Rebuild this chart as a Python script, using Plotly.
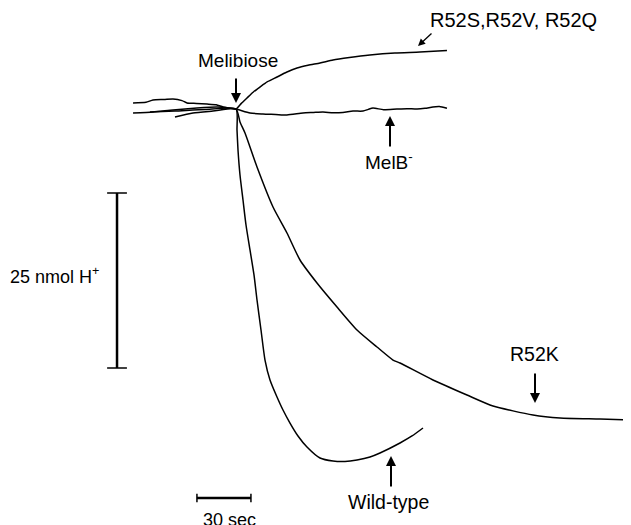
import plotly.graph_objects as go

# ---------------- data (time in s, signal in nmol H+, relative to melibiose addition) -------------
r52s_t = [-57.2, -50.0, -46.1, -40.0, -35.0, -30.0, -27.2, -22.0, -16.1, -11.0, -7.2, -3.0, 0.0,
          3.0, 6.1, 9.5, 13.3, 17.5, 22.8, 28.0, 33.9, 40.0, 46.7, 53.9, 63.0, 74.4, 88.3, 102.2, 117.2]
r52s_s = [0.86, 0.95, 1.29, 1.35, 1.43, 1.2, 0.86, 0.8, 0.71, 0.6, 0.29, 0.1, 0.0,
          0.8, 1.57, 2.4, 3.14, 3.9, 4.57, 5.25, 5.86, 6.25, 6.57, 7.0, 7.35, 7.71, 8.0, 8.14, 8.36]

melb_t = [-57.2, -46.1, -35.0, -21.7, -10.6, -4.0, 0.0, 7.8, 15.0, 22.0, 28.3, 37.2, 43.0, 48.3,
          54.0, 59.4, 65.0, 70.6, 73.5, 76.1, 82.0, 89.4, 95.0, 100.6, 105.0, 109.4, 113.0, 117.2]
melb_s = [-0.57, -0.43, -0.14, 0.14, 0.29, 0.15, 0.0, -0.57, -0.71, -0.78, -0.86, -0.57, -0.5, -0.43,
          -0.55, -0.5, -0.3, -0.29, -0.05, 0.14, -0.1, 0.0, 0.05, 0.0, 0.1, 0.29, 0.35, 0.1]

r52k_t = [-47.8, -33.9, -17.2, 0.0, 2.22, 5.0, 11.67, 20.56, 28.33, 35.56, 45.0, 56.11, 67.22, 78.33,
          87.22, 91.11, 109.44, 128.33, 142.78, 165.0, 180.0, 202.22, 219.44]
r52k_s = [-0.43, -0.29, -0.07, 0.0, -1.86, -3.43, -8.29, -14.0, -17.71, -21.57, -24.86, -28.29, -31.57,
          -34.0, -35.86, -36.29, -38.71, -40.86, -42.43, -43.71, -44.14, -44.29, -44.43]

wt_t = [-33.9, -23.9, -12.8, 0.0, 0.56, 1.11, 2.22, 3.89, 5.56, 7.78, 10.0, 11.67, 13.89, 16.11, 18.89,
        22.78, 26.11, 30.0, 34.44, 39.44, 46.67, 53.89, 60.56, 67.22, 74.44, 80.0, 91.11, 97.78, 103.89]
wt_s = [-1.14, -0.57, -0.29, 0.0, -3.0, -5.86, -9.43, -13.0, -16.57, -20.14, -23.71, -27.29, -31.57,
        -35.86, -38.71, -41.14, -43.0, -44.86, -46.71, -48.29, -49.86, -50.29, -50.36, -50.14, -49.71,
        -49.14, -47.71, -46.71, -45.57]

bar_nmol = 25      # vertical scale bar
bar_sec = 30       # horizontal scale bar
bar_v_top = -12.0  # signal where vertical bar starts
bar_v_t = -66.1    # time position of vertical bar
bar_h_t0 = -21.7   # time where horizontal bar starts
bar_h_s = -55.57   # signal level of horizontal bar

# ---------------- figure ----------------
PAGE_W, PAGE_H = 631, 525
OFF = 8                      # page body margin of the html page
W, H = PAGE_W - OFF, PAGE_H - OFF
X0_PX, Y0_PX = 236, 109      # page pixel of the melibiose addition point
SX, SY = 1.8, 7.0            # pixels per second, pixels per nmol
X_RANGE = [-(X0_PX - OFF) / SX, (PAGE_W - X0_PX) / SX]
Y_RANGE = [-(PAGE_H - Y0_PX) / SY, (Y0_PX - OFF) / SY]

fig = go.Figure()
line_style = dict(color="black", width=1.5, shape="spline", smoothing=0.6)
for name, t, s in [("R52S,R52V, R52Q", r52s_t, r52s_s), ("MelB-", melb_t, melb_s),
                   ("R52K", r52k_t, r52k_s), ("Wild-type", wt_t, wt_s)]:
    fig.add_trace(go.Scatter(x=t, y=s, mode="lines", name=name, line=line_style,
                             hoverinfo="skip", showlegend=False))

# scale bars
def seg(x0, y0, x1, y1, w=2):
    fig.add_shape(type="line", xref="x", yref="y", x0=x0, y0=y0, x1=x1, y1=y1,
                  line=dict(color="black", width=w))

cap_t = 5.5
seg(bar_v_t, bar_v_top, bar_v_t, bar_v_top - bar_nmol, 2.5)
seg(bar_v_t - cap_t, bar_v_top, bar_v_t + cap_t, bar_v_top, 1.5)
seg(bar_v_t - cap_t, bar_v_top - bar_nmol, bar_v_t + cap_t, bar_v_top - bar_nmol, 1.5)
cap_s = 0.6
seg(bar_h_t0, bar_h_s, bar_h_t0 + bar_sec, bar_h_s, 2.5)
seg(bar_h_t0, bar_h_s - cap_s, bar_h_t0, bar_h_s + cap_s, 1.5)
seg(bar_h_t0 + bar_sec, bar_h_s - cap_s, bar_h_t0 + bar_sec, bar_h_s + cap_s, 1.5)

FAMILY = "Liberation Sans, Arial, Helvetica, sans-serif"

def px(x):
    return (x - OFF) / W

def py(y):
    return 1 - (y - OFF) / H

def label(text, x, y, size):
    fig.add_annotation(text=text, xref="paper", yref="paper", x=px(x), y=py(y),
                       xanchor="center", yanchor="middle", showarrow=False,
                       font=dict(family=FAMILY, size=size, color="black"))

def arrow(x_tip, y_tip, x_tail, y_tail, w=2, size=1.0):
    fig.add_annotation(text="", xref="paper", yref="paper", x=px(x_tip), y=py(y_tip),
                       ax=x_tail - x_tip, ay=y_tail - y_tip, axref="pixel", ayref="pixel",
                       showarrow=True, arrowhead=2, arrowsize=size, arrowwidth=w,
                       arrowcolor="black")

label("Melibiose", 238, 61, 19)
arrow(236, 103, 236, 77)
label("R52S,R52V, R52Q", 514, 20, 20)
arrow(418, 46, 433, 32, 1.3, 1.1)
label("MelB<sup>-</sup>", 389, 161, 19)
arrow(390, 116, 390, 148)
label("R52K", 534, 354, 19.5)
arrow(535, 403, 535, 372)
label("Wild-type", 388, 502, 19.5)
arrow(391, 456, 391, 488)
label("25 nmol H<sup>+</sup>", 55, 275, 18)
label("30 sec", 229, 520, 18)

fig.update_layout(width=W, height=H, margin=dict(l=0, r=0, t=0, b=0),
                  paper_bgcolor="white", plot_bgcolor="white", showlegend=False)
fig.update_xaxes(range=X_RANGE, visible=False, showgrid=False, zeroline=False)
fig.update_yaxes(range=Y_RANGE, visible=False, showgrid=False, zeroline=False)

fig.write_html("out.html")
